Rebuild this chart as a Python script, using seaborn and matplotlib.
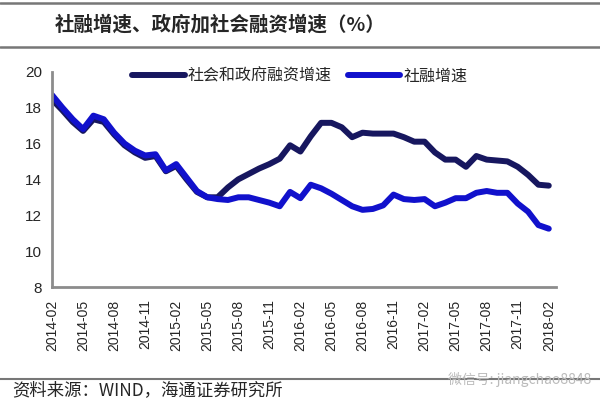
import matplotlib
matplotlib.use("Agg")
import matplotlib.pyplot as plt
import seaborn as sns
import pandas as pd
from matplotlib.lines import Line2D

sns.set_style("white")
plt.rcParams["font.family"] = ["Liberation Sans", "Noto Sans CJK SC", "DejaVu Sans"]

months = [str(p) for p in pd.period_range("2014-02", "2018-02", freq="M")]

gov_total = [18.45, 17.85, 17.2, 16.7, 17.35, 17.2, 16.5, 15.9, 15.5, 15.2,
             15.3, 14.45, 14.75, 14.0, 13.3, 13.0, 13.0, 13.55, 14.0, 14.3,
             14.6, 14.85, 15.15, 15.9, 15.55, 16.4, 17.15, 17.15, 16.9, 16.35,
             16.6, 16.55, 16.55, 16.55, 16.35, 16.1, 16.1, 15.5, 15.1, 15.1,
             14.7, 15.3, 15.1, 15.05, 15.0, 14.7, 14.25, 13.7, 13.65]
tsf = [18.7, 18.0, 17.35, 16.8, 17.55, 17.35, 16.6, 16.0, 15.6, 15.33,
       15.4, 14.5, 14.85, 14.1, 13.35, 13.0, 12.9, 12.85, 13.0, 13.0,
       12.85, 12.7, 12.5, 13.3, 12.95, 13.7, 13.5, 13.2, 12.85, 12.5,
       12.3, 12.35, 12.55, 13.15, 12.9, 12.85, 12.9, 12.5, 12.7, 12.95,
       12.95, 13.25, 13.35, 13.25, 13.25, 12.65, 12.2, 11.45, 11.25]

labels = ["社会和政府融资增速", "社融增速"]
colors = ["#17175f", "#1111cc"]

df = pd.DataFrame({"idx": range(len(months)), "month": months,
                   "gov": gov_total, "tsf": tsf})

fig = plt.figure(figsize=(6.0, 3.99), dpi=100)
ax = fig.add_axes([0.0867, 0.2807, 0.84, 0.5396])

sns.lineplot(data=df, x="idx", y="gov", color=colors[0], linewidth=4.3, ax=ax)
sns.lineplot(data=df, x="idx", y="tsf", color=colors[1], linewidth=4.3, ax=ax)

ax.set_xlim(0, 48.7)
ax.set_ylim(8, 20)
ax.set_yticks(range(8, 21, 2))
ax.set_xticks(df["idx"][::3])
ax.set_xticklabels(df["month"][::3], rotation=90, fontsize=10)
ax.tick_params(axis="y", labelsize=11, length=4, width=1.5, color="#8c8c8c", pad=3)
ax.tick_params(axis="x", length=4, width=1.5, color="#8c8c8c", pad=5)
ax.set_xlabel("")
ax.set_ylabel("")
for s in ["top", "right"]:
    ax.spines[s].set_visible(False)
for s in ["left", "bottom"]:
    ax.spines[s].set_color("#8c8c8c")
    ax.spines[s].set_linewidth(2)

handles = [Line2D([], [], color=c, linewidth=4.3) for c in colors]
ax.legend(handles, labels, ncol=2, frameon=False, loc="upper left",
          bbox_to_anchor=(0.13, 1.085), handlelength=3.3, handletextpad=0.2,
          columnspacing=1.0, prop={"family": ["Noto Sans CJK SC"], "size": 11.5})

# header and footer rules
fig.add_artist(Line2D([0, 1], [0.993, 0.993], color="#777777", linewidth=1.8))
fig.add_artist(Line2D([0, 1], [0.882, 0.882], color="#777777", linewidth=1.8))
fig.add_artist(Line2D([0, 1], [0.05, 0.05], color="#777777", linewidth=1.5))

fig.text(0.092, 0.937, "社融增速、政府加社会融资增速（%）", fontsize=14,
         fontweight="bold", va="center", ha="left",
         family=["Noto Sans CJK SC", "DejaVu Sans"])
fig.text(0.02, 0.022, "资料来源：WIND，海通证券研究所", fontsize=12.5,
         va="center", ha="left", family=["Noto Sans CJK SC", "DejaVu Sans"])
fig.text(0.985, 0.05, "微信号: jiangchao8848", fontsize=10, color="#bbbbbb",
         va="center", ha="right", family=["Noto Sans CJK SC", "DejaVu Sans"])

fig.savefig("out.png", dpi=100)
